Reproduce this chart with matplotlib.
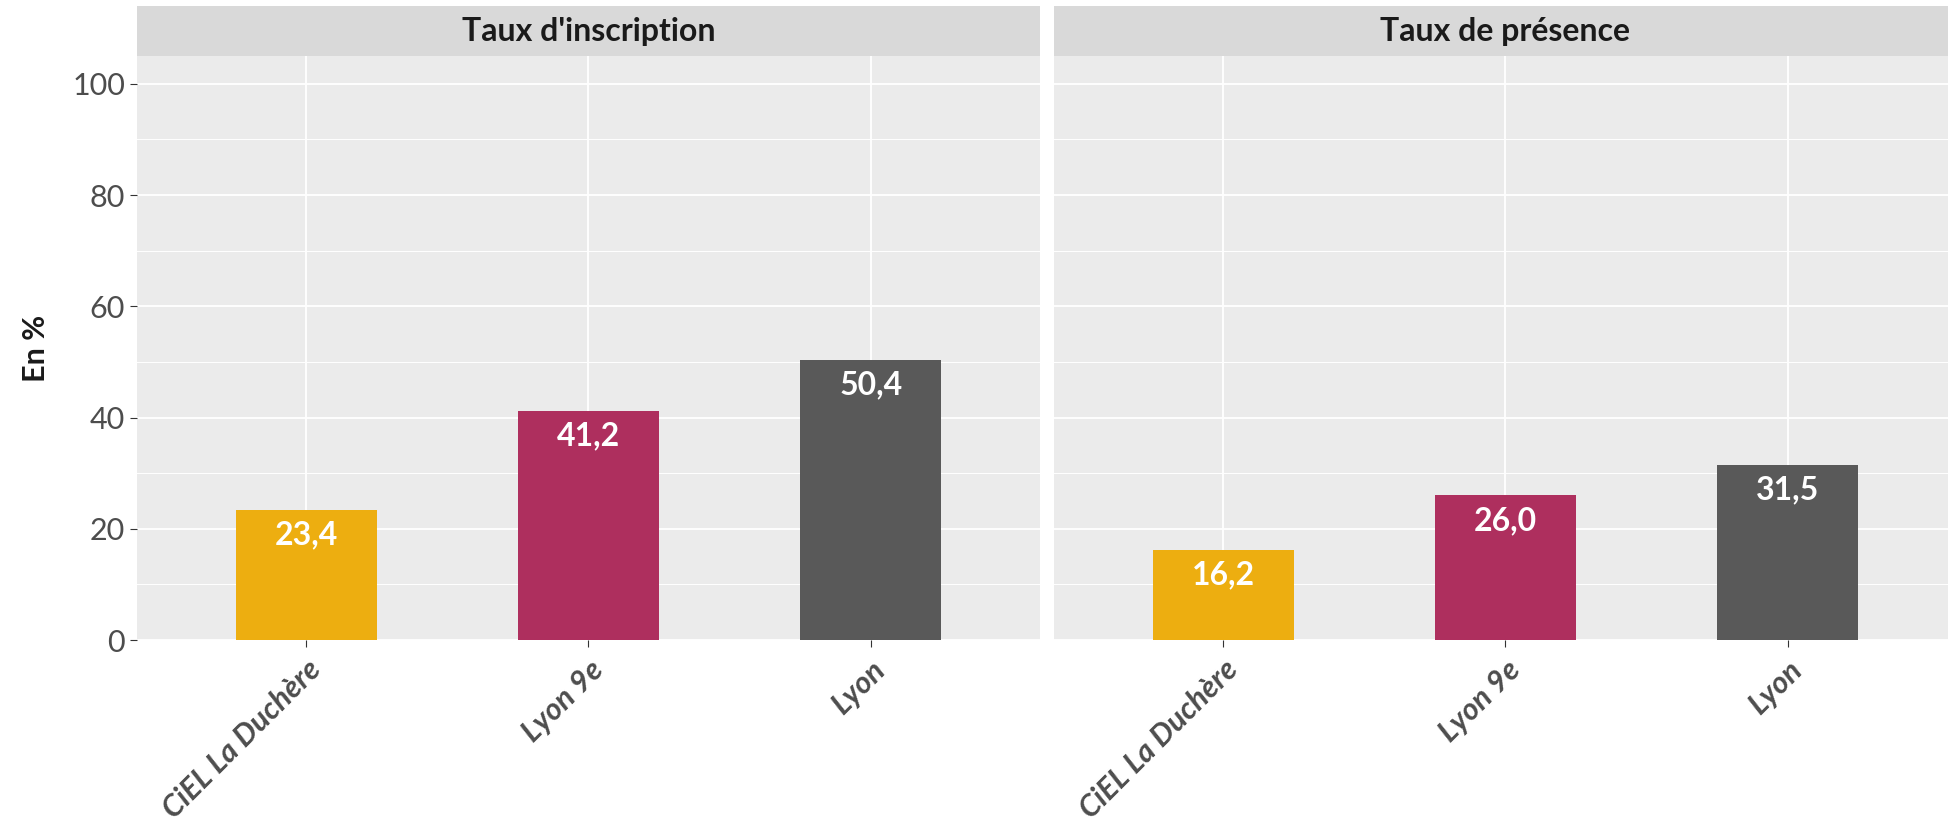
import matplotlib.pyplot as plt
from matplotlib.patches import Rectangle

plt.rcParams['font.family'] = ['Lato', 'DejaVu Sans']

categories = ["CiEL La Duchère", "Lyon 9e", "Lyon"]
panels = ["Taux d'inscription", "Taux de présence"]
inscription = [23.4, 41.2, 50.4]
presence = [16.2, 26.0, 31.5]
colors = ["#EDAE10", "#AE2F5E", "#595959"]

W, H = 1949, 830
fig = plt.figure(figsize=(W / 100, H / 100), dpi=100)

panel_top, panel_bottom = 56, 640
strip_top = 6
lefts = [137, 1054]
width = 903

for i, (title, values) in enumerate(zip(panels, [inscription, presence])):
    ax = fig.add_axes([lefts[i] / W, (H - panel_bottom) / H, width / W, (panel_bottom - panel_top) / H])
    ax.set_facecolor("#EBEBEB")
    x = range(len(categories))
    ax.bar(x, values, width=0.5, color=colors, zorder=3)
    for xi, v in zip(x, values):
        ax.text(xi, v - 4.5, f"{v:.1f}".replace(".", ","), ha="center", va="center",
                color="white", fontsize=23, fontweight="bold", zorder=4)
    ax.set_xlim(-0.6, 2.6)
    ax.set_ylim(0, 105)
    ax.set_yticks([0, 20, 40, 60, 80, 100])
    ax.set_yticks([10, 30, 50, 70, 90], minor=True)
    ax.set_xticks(list(x))
    ax.set_xticklabels(categories, rotation=45, ha="right", rotation_mode="anchor",
                       fontsize=20.5, fontweight="bold", fontstyle="italic", color="#4D4D4D")
    ax.grid(True, which="major", color="white", linewidth=1.3, zorder=0)
    ax.grid(True, which="minor", axis="y", color="white", linewidth=0.7, zorder=0)
    ax.set_axisbelow(True)
    for s in ax.spines.values():
        s.set_visible(False)
    ax.tick_params(axis="both", which="major", length=5, color="#333333", labelcolor="#4D4D4D", labelsize=22)
    ax.tick_params(axis="y", which="minor", length=0)
    ax.tick_params(axis="x", pad=6)
    if i == 0:
        ax.set_ylabel("En %", fontsize=22, fontweight="bold", color="#1A1A1A", labelpad=16)
    else:
        ax.tick_params(axis="y", which="both", left=False, labelleft=False)

    # facet strip
    fig.patches.append(Rectangle((lefts[i] / W, (H - panel_top) / H), width / W, (panel_top - strip_top) / H,
                                 transform=fig.transFigure, facecolor="#D9D9D9", edgecolor="none", zorder=0))
    fig.text((lefts[i] + width / 2) / W, (H - (panel_top + strip_top) / 2) / H, title,
             ha="center", va="center", fontsize=23, fontweight="bold", color="#1A1A1A")

fig.savefig("out.png", dpi=100)
